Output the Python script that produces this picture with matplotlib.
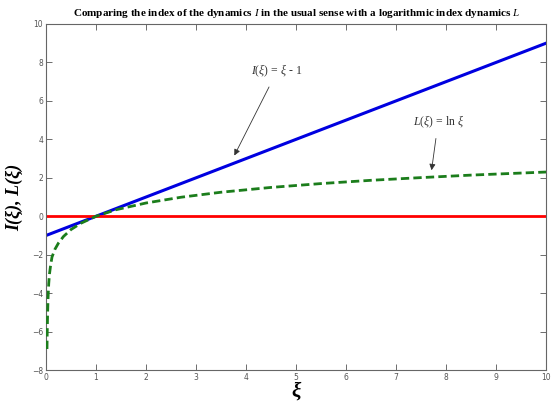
import matplotlib.pyplot as plt

plt.rcParams['mathtext.fontset'] = 'custom'
plt.rcParams['mathtext.rm'] = 'Liberation Serif'
plt.rcParams['mathtext.it'] = 'Liberation Serif:italic'
plt.rcParams['mathtext.bf'] = 'Liberation Serif:bold'

# values
xi_lin = [0, 10]
I_vals = [-1, 9]

xi_log = [0.02, 0.025, 0.032, 0.042, 0.055, 0.07, 0.09, 0.12, 0.18, 0.25, 0.35, 0.5, 0.7, 1.0,
          1.4, 2.0, 2.7, 3.5, 4.5, 5.5, 6.5, 7.5, 8.5, 10.0]
L_vals = [-6.9, -6.0, -5.1, -4.2, -3.5, -3.0, -2.6, -2.12, -1.71, -1.39, -1.05, -0.69, -0.36, 0.0,
          0.34, 0.69, 0.99, 1.25, 1.50, 1.70, 1.87, 2.01, 2.14, 2.30]

zero_x = [0, 10]
zero_y = [0, 0]

xticks = list(range(0, 11))
yticks = list(range(-8, 11, 2))

fig = plt.figure(figsize=(5.54, 4.05), dpi=100)
ax = fig.add_axes([0.083, 0.086, 0.903, 0.855])

ax.plot(xi_lin, I_vals, color='#0000e0', lw=2.2)
ax.plot(xi_log, L_vals, color='#1b7d1b', lw=2.0, linestyle=(0, (3, 1.5)), zorder=3)
ax.plot(zero_x, zero_y, color='#ff0000', lw=2.0)

ax.set_xlim(0, 10)
ax.set_ylim(-8, 10)
ax.set_xticks(xticks)
ax.set_yticks(yticks)
ax.tick_params(direction='in', top=True, right=True, length=4, width=0.6,
               labelsize=5.5, colors='#555555', pad=2)
for s in ax.spines.values():
    s.set_color('#666666')
    s.set_linewidth(0.8)

ax.set_title('Comparing the index of the dynamics $\\mathit{I}$ in the usual sense with a logarithmic index dynamics $\\mathit{L}$',
             fontsize=8, fontweight='bold', family='Liberation Serif', pad=6)
ax.set_xlabel('ξ', fontsize=15, family='Liberation Serif', style='italic', fontweight='bold', labelpad=0)
ax.set_ylabel('I(ξ), L(ξ)', fontsize=13, family='Liberation Serif', style='italic',
              fontweight='bold', labelpad=6)

arrow = dict(arrowstyle='-|>', color='#333333', lw=0.6, mutation_scale=9, shrinkA=4)
ax.annotate('$I(\\xi)$ = $\\xi$ - 1', xy=(3.74, 3.03), xytext=(4.62, 7.55),
            ha='center', va='center', fontsize=8.5, family='Liberation Serif', color='#333333',
            arrowprops=arrow)
ax.annotate('$L(\\xi)$ = ln $\\xi$', xy=(7.70, 2.25), xytext=(7.84, 4.90),
            ha='center', va='center', fontsize=8.5, family='Liberation Serif', color='#333333',
            arrowprops=arrow)

fig.savefig('out.png', dpi=100)
